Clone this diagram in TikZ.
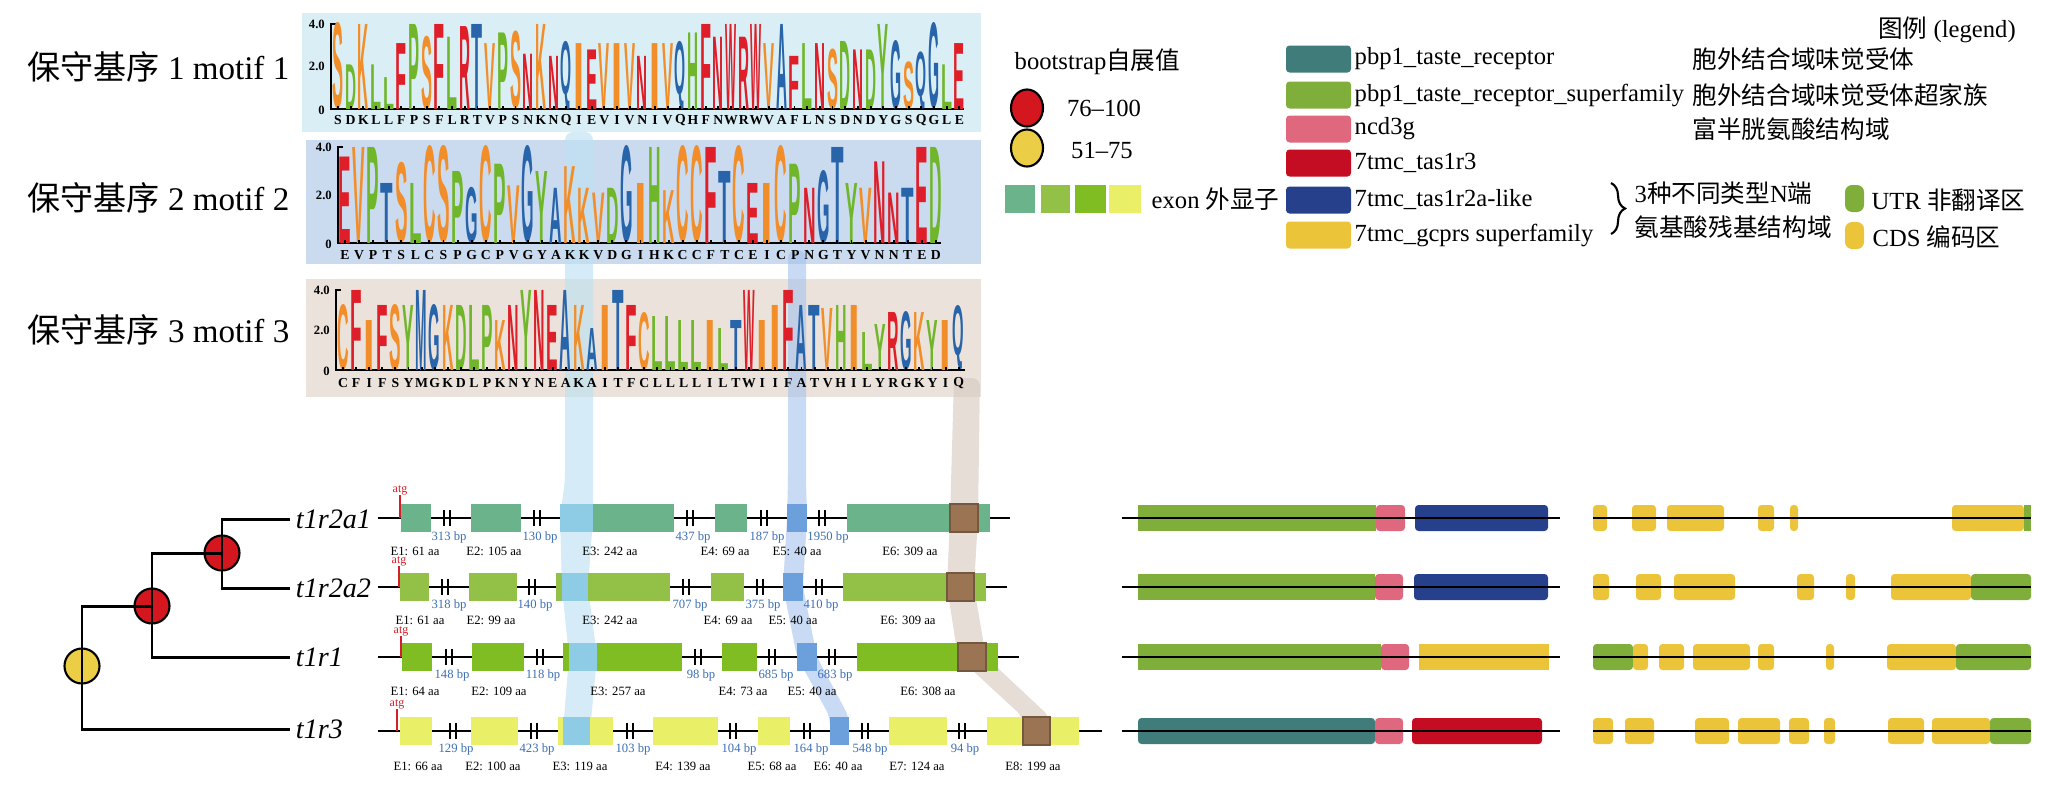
\documentclass[tikz,border=0pt]{standalone}
\usepackage{fontspec}
\setmainfont{Liberation Serif}
\setsansfont{Liberation Sans}
\newfontfamily\cjk{Noto Sans CJK SC}
\usetikzlibrary{positioning, calc, shapes.geometric, decorations.pathreplacing}

\definecolor{exonA}{RGB}{106,179,139}
\definecolor{exonB}{RGB}{147,192,71}
\definecolor{exonC}{RGB}{128,189,35}
\definecolor{exonD}{RGB}{233,239,103}
\definecolor{motifbgA}{RGB}{218,238,246}
\definecolor{motifbgB}{RGB}{202,219,240}
\definecolor{motifbgC}{RGB}{234,226,219}
\definecolor{stripecyan}{RGB}{190,225,242}
\definecolor{stripeblue}{RGB}{165,195,236}
\definecolor{stripebeige}{RGB}{218,206,196}
\definecolor{hlcyan}{RGB}{142,203,228}
\definecolor{hlblue}{RGB}{108,160,220}
\definecolor{hlbrown}{RGB}{155,116,84}
\definecolor{bpblue}{RGB}{58,110,181}
\definecolor{atgred}{RGB}{214,30,40}
\definecolor{bootred}{RGB}{212,22,30}
\definecolor{bootyellow}{RGB}{236,206,70}
\definecolor{domteal}{RGB}{63,124,122}
\definecolor{domgreen}{RGB}{127,174,58}
\definecolor{dompink}{RGB}{224,104,126}
\definecolor{domred}{RGB}{196,12,34}
\definecolor{domblue}{RGB}{38,64,140}
\definecolor{domyellow}{RGB}{235,196,58}
\definecolor{logored}{RGB}{222,30,40}
\definecolor{logoorange}{RGB}{242,142,42}
\definecolor{logogreen}{RGB}{112,182,42}
\definecolor{logoblue}{RGB}{40,100,170}
% residue colours of the logos
\colorlet{lgA}{logoblue}\colorlet{lgC}{logoorange}\colorlet{lgD}{logogreen}
\colorlet{lgE}{logored}\colorlet{lgF}{logored}\colorlet{lgG}{logoblue}
\colorlet{lgH}{logogreen}\colorlet{lgI}{logoorange}\colorlet{lgK}{logoorange}
\colorlet{lgL}{logogreen}\colorlet{lgM}{logoblue}\colorlet{lgN}{logored}
\colorlet{lgP}{logogreen}\colorlet{lgQ}{logoblue}\colorlet{lgR}{logored}
\colorlet{lgS}{logoorange}\colorlet{lgT}{logoblue}\colorlet{lgV}{logoorange}
\colorlet{lgW}{logored}\colorlet{lgY}{logogreen}

\tikzset{
  logoletter/.style={anchor=south, inner sep=0pt, outer sep=0pt, font=\sffamily\bfseries},
  seqletter/.style={inner sep=0pt, font=\fontsize{3.9}{4.6}\selectfont\bfseries},
  axisline/.style={line width=0.55pt},
  axislabel/.style={anchor=east, inner sep=1pt, font=\fontsize{3.6}{4}\selectfont\bfseries},
  motiftitle/.style={anchor=east, inner sep=0pt, font=\fontsize{9.4}{11}\selectfont},
  bootnode/.style={circle, draw, line width=0.6pt, minimum size=0.35cm, inner sep=0pt},
  bootkey/.style={ellipse, draw, line width=0.6pt, minimum width=0.32cm, minimum height=0.37cm, inner sep=0pt},
  treeline/.style={line width=0.85pt},
  leaflabel/.style={anchor=west, inner sep=1.5pt, font=\fontsize{8}{9.6}\selectfont\itshape},
  geneline/.style={line width=0.7pt},
  brk/.style={line width=0.7pt},
  bplabel/.style={inner sep=0pt, text=bpblue, font=\fontsize{3.6}{4.3}\selectfont},
  exlabel/.style={inner sep=0pt, font=\fontsize{3.6}{4.3}\selectfont},
  atglabel/.style={inner sep=0pt, text=atgred, font=\fontsize{3.4}{4}\selectfont},
  atgline/.style={atgred, line width=0.6pt},
  hlbox/.style={fill=hlbrown, draw=hlbrown!75!black, line width=0.6pt},
  domline/.style={line width=0.8pt},
  legtext/.style={anchor=west, inner sep=0pt, font=\fontsize{7}{8.4}\selectfont},
  swatch/.style={rounded corners=1pt},
}

\begin{document}
\begin{tikzpicture}[x=0.01cm, y=-0.01cm]
  \useasboundingbox (0,0) rectangle (2069,790);

  % Motif titles and panels
  \node[motiftitle] (titleA) at (290,67) {{\cjk 保守基序} 1 motif 1};
  \node[motiftitle] (titleB) at (290,198) {{\cjk 保守基序} 2 motif 2};
  \node[motiftitle] (titleC) at (290,330) {{\cjk 保守基序} 3 motif 3};
  \fill[motifbgA] (302,13) rectangle (981,132);
  \fill[motifbgB] (306,140) rectangle (981,264);
  \fill[motifbgC] (306,279) rectangle (981,397);

  % Highlight stripes
  \fill[stripecyan, opacity=0.65, rounded corners=0.08cm] (565,132) -- (565,480) -- (560,518) -- (562,587) -- (569,657) -- (563,731) -- (563,745)
    -- (590,745) -- (590,731) -- (597,657) -- (588,587) -- (593,518) -- (593,480) -- (593,132) -- cycle;
  \fill[stripeblue, opacity=0.6, rounded corners=0.08cm] (788,250) -- (788,480) -- (787,518) -- (783,587) -- (797,657) -- (830,717) -- (830,745)
    -- (849,745) -- (849,717) -- (817,657) -- (803,587) -- (807,518) -- (806,480) -- (806,250) -- cycle;
  \fill[stripebeige, opacity=0.7, rounded corners=0.08cm] (954,378) -- (950,518) -- (947,587) -- (958,657) -- (1023,717) -- (1023,745)
    -- (1050,745) -- (1050,717) -- (986,657) -- (974,587) -- (978,518) -- (980,378) -- cycle;

  % Motif 1 logo
  \draw[axisline] (336,24) -- (331,24) -- (331,109) -- (964,109);
  \node[axislabel] (yA4) at (329,24) {4.0};
  \node[axislabel] (yA2) at (329,66) {2.0};
  \node[axislabel] (yA0) at (329,110) {0};
  \foreach \ltr/\hgt [count=\i from 0] in {S/4.0, D/2.1, K/4.0, L/2.1, L/1.5, F/3.1, P/4.0, S/3.4, F/4.0, L/3.4,
      R/3.9, T/4.0, V/3.1, P/3.6, S/3.6, N/2.6, K/4.0, N/2.5, Q/2.5, I/3.1, E/2.8, V/3.1, I/3.1, V/3.1, N/2.5,
      I/3.1, V/3.1, Q/2.5, H/3.6, F/4.0, N/3.4, W/4.0, R/3.4, W/4.0, V/3.1, A/4.0, F/2.5, L/3.1, N/3.1, S/2.8,
      D/3.2, N/2.8, D/2.8, Y/4.0, G/3.2, S/2.2, Q/2.1, G/4.0, L/2.1, E/3.1}{
    \pgfmathsetlengthmacro{\lh}{\hgt*0.2125cm}
    \node[logoletter, text=lg\ltr] (mA\i) at ({338+12.68*\i},109) {\resizebox{0.11cm}{\lh}{\ltr}};
    \node[seqletter] (sA\i) at ({338+12.68*\i},120) {\ltr};
    \draw[axisline] ({338+12.68*\i},109) -- ++(0,-3);
  }

  % Motif 2 logo
  \draw[axisline] (343,147) -- (338,147) -- (338,243) -- (941,243);
  \node[axislabel] (yB4) at (336,147) {4.0};
  \node[axislabel] (yB2) at (336,195) {2.0};
  \node[axislabel] (yB0) at (336,244) {0};
  \foreach \ltr/\hgt [count=\i from 0] in {E/3.6, V/4.0, P/4.0, T/2.5, S/3.3, L/2.5, C/4.0, S/4.0, P/3.0, G/2.3,
      C/4.0, P/3.3, V/2.4, G/4.0, Y/3.0, A/2.3, K/3.2, K/2.3, V/2.1, D/2.3, G/4.0, I/2.5, H/4.0, K/2.2, C/4.0,
      C/4.0, F/4.0, T/3.0, C/4.0, E/2.5, I/2.5, C/4.0, P/3.3, N/2.3, G/3.0, T/4.0, Y/2.5, V/2.3, N/3.4, N/2.1,
      T/2.3, E/4.0, D/4.0}{
    \pgfmathsetlengthmacro{\lh}{\hgt*0.24cm}
    \node[logoletter, text=lg\ltr] (mB\i) at ({345+14.07*\i},243) {\resizebox{0.125cm}{\lh}{\ltr}};
    \node[seqletter] (sB\i) at ({345+14.07*\i},255) {\ltr};
    \draw[axisline] ({345+14.07*\i},243) -- ++(0,-3);
  }

  % Motif 3 logo
  \draw[axisline] (341,290) -- (336,290) -- (336,370) -- (965,370);
  \node[axislabel] (yC4) at (334,290) {4.0};
  \node[axislabel] (yC2) at (334,330) {2.0};
  \node[axislabel] (yC0) at (334,371) {0};
  \foreach \ltr/\hgt [count=\i from 0] in {C/3.25, F/4.0, I/2.5, F/3.25, S/3.25, Y/3.25, M/4.0, G/3.25, K/3.25, D/3.25,
      L/3.25, P/3.25, K/2.5, N/3.25, Y/4.0, N/4.0, E/3.25, A/4.0, K/3.25, A/2.1, I/3.25, T/4.0, F/3.25, C/2.85,
      L/2.7, L/2.7, L/2.5, L/2.5, I/2.5, L/2.1, T/2.5, W/4.0, I/2.5, I/3.25, F/4.0, A/3.25, T/3.25, V/3.1, H/3.25,
      I/3.25, L/1.9, Y/2.3, R/2.9, G/2.9, K/2.9, Y/2.5, I/2.5, Q/2.5}{
    \pgfmathsetlengthmacro{\lh}{\hgt*0.2cm}
    \node[logoletter, text=lg\ltr] (mC\i) at ({343+13.1*\i},370) {\resizebox{0.115cm}{\lh}{\ltr}};
    \node[seqletter] (sC\i) at ({343+13.1*\i},383) {\ltr};
    \draw[axisline] ({343+13.1*\i},370) -- ++(0,-3);
  }

  % Tree
  \node[bootnode, fill=bootyellow] (root) at (82,666) {};
  \node[bootnode, fill=bootred] (nA) at (152,606) {};
  \node[bootnode, fill=bootred] (nB) at (222,553) {};
  \node[leaflabel] (t1r2a1) at (290,519) {t1r2a1};
  \node[leaflabel] (t1r2a2) at (290,588) {t1r2a2};
  \node[leaflabel] (t1r1) at (290,657) {t1r1};
  \node[leaflabel] (t1r3) at (290,729) {t1r3};
  \draw[treeline] (nA.center) -| (root.center) |- (t1r3.west);
  \draw[treeline] (nB.center) -| (nA.center) |- (t1r1.west);
  \draw[treeline] (t1r2a1.west) -| (nB.center) |- (t1r2a2.west);

  % t1r2a1 gene
  \coordinate (gAs) at (378,518); \coordinate (gAe) at (1010,518);
  \draw[geneline] (gAs) -- (gAe);
  \foreach \a/\b in {401/431, 471/521, 560/674, 715/747, 847/990} \fill[exonA] (\a,504) rectangle (\b,532);
  \fill[hlblue] (787,504) rectangle (807,532);
  \fill[hlcyan] (560,504) rectangle (593,532);
  \draw[hlbox] (950,504) rectangle (978,532);
  \foreach \x in {447,537,690,764,822} \draw[brk] (\x-3,510) -- (\x-3,526) (\x+3,510) -- (\x+3,526);
  \foreach \x/\t in {449/313, 540/130, 693/437, 767/187, 828/1950} \node[bplabel] at (\x,537) {\t\ bp};
  \foreach \x/\t [count=\k] in {415/61, 494/105, 610/242, 725/69, 797/40, 910/309} \node[exlabel] at (\x,551) {E\k: \t\ aa};
  \draw[atgline] (400,495) -- (400,518);
  \node[atglabel] (atgA) at (400,490) {atg};

  % t1r2a2 gene
  \coordinate (gBs) at (378,587); \coordinate (gBe) at (1007,587);
  \draw[geneline] (gBs) -- (gBe);
  \foreach \a/\b in {400/429, 469/517, 556/670, 711/744, 843/986} \fill[exonB] (\a,573) rectangle (\b,601);
  \fill[hlblue] (783,573) rectangle (803,601);
  \fill[hlcyan] (562,573) rectangle (588,601);
  \draw[hlbox] (947,573) rectangle (974,601);
  \foreach \x in {445,532,686,760,819} \draw[brk] (\x-3,579) -- (\x-3,595) (\x+3,579) -- (\x+3,595);
  \foreach \x/\t in {449/318, 535/140, 690/707, 763/375, 821/410} \node[bplabel] at (\x,605) {\t\ bp};
  \foreach \x/\t [count=\k] in {420/61, 491/99, 610/242, 728/69, 793/40, 908/309} \node[exlabel] at (\x,620) {E\k: \t\ aa};
  \draw[atgline] (399,566) -- (399,587);
  \node[atglabel] (atgB) at (399,561) {atg};

  % t1r1 gene
  \coordinate (gCs) at (378,657); \coordinate (gCe) at (1019,657);
  \draw[geneline] (gCs) -- (gCe);
  \foreach \a/\b in {402/432, 472/524, 563/682, 722/757, 857/998} \fill[exonC] (\a,643) rectangle (\b,671);
  \fill[hlblue] (797,643) rectangle (817,671);
  \fill[hlcyan] (569,643) rectangle (597,671);
  \draw[hlbox] (958,643) rectangle (986,671);
  \foreach \x in {449,540,698,772,832} \draw[brk] (\x-3,649) -- (\x-3,665) (\x+3,649) -- (\x+3,665);
  \foreach \x/\t in {452/148, 543/118, 701/98, 776/685, 835/683} \node[bplabel] at (\x,675) {\t\ bp};
  \foreach \x/\t [count=\k] in {415/64, 499/109, 618/257, 743/73, 812/40, 928/308} \node[exlabel] at (\x,691) {E\k: \t\ aa};
  \draw[atgline] (401,636) -- (401,657);
  \node[atglabel] (atgC) at (401,631) {atg};

  % t1r3 gene
  \coordinate (gDs) at (378,731); \coordinate (gDe) at (1102,731);
  \draw[geneline] (gDs) -- (gDe);
  \foreach \a/\b in {400/432, 471/518, 558/613, 653/718, 758/790, 889/947, 987/1079} \fill[exonD] (\a,717) rectangle (\b,745);
  \fill[hlblue] (830,717) rectangle (849,745);
  \fill[hlcyan] (563,717) rectangle (590,745);
  \draw[hlbox] (1023,717) rectangle (1050,745);
  \foreach \x in {453,534,630,733,807,865,962} \draw[brk] (\x-3,723) -- (\x-3,739) (\x+3,723) -- (\x+3,739);
  \foreach \x/\t in {456/129, 537/423, 633/103, 739/104, 811/164, 870/548, 965/94} \node[bplabel] at (\x,749) {\t\ bp};
  \foreach \x/\t [count=\k] in {418/66, 493/100, 580/119, 683/139, 772/68, 838/40, 917/124, 1033/199} \node[exlabel] at (\x,766) {E\k: \t\ aa};
  \draw[atgline] (397,709) -- (397,731);
  \node[atglabel] (atgD) at (397,704) {atg};

  % Protein domains
  \fill[domgreen] (1138,505) rectangle (1376,531);
  \fill[dompink, swatch] (1376,505) rectangle (1405,531);
  \fill[domblue, swatch] (1415,505) rectangle (1548,531);
  \fill[domgreen] (1138,574) rectangle (1375,600);
  \fill[dompink, swatch] (1375,574) rectangle (1403,600);
  \fill[domblue, swatch] (1414,574) rectangle (1548,600);
  \fill[domgreen] (1138,644) rectangle (1381,670);
  \fill[dompink, swatch] (1381,644) rectangle (1409,670);
  \fill[domyellow] (1419,644) rectangle (1549,670);
  \fill[domteal, swatch] (1138,718) rectangle (1375,744);
  \fill[dompink, swatch] (1375,718) rectangle (1403,744);
  \fill[domred, swatch] (1412,718) rectangle (1542,744);
  \foreach \y [count=\i] in {518,587,657,731}{
    \coordinate (dom\i s) at (1122,\y); \coordinate (dom\i e) at (1560,\y);
    \draw[domline] (dom\i s) -- (dom\i e);
  }

  % UTR / CDS
  \foreach \a/\b in {1593/1607, 1632/1656, 1667/1724, 1758/1774, 1790/1798, 1952/2024} \fill[domyellow, swatch] (\a,505) rectangle (\b,531);
  \fill[domgreen] (2024,505) rectangle (2031,531);
  \foreach \a/\b in {1593/1609, 1636/1661, 1674/1735, 1797/1814, 1846/1855, 1891/1971} \fill[domyellow, swatch] (\a,574) rectangle (\b,600);
  \fill[domgreen, swatch] (1971,574) rectangle (2031,600);
  \fill[domgreen, swatch] (1593,644) rectangle (1633,670);
  \foreach \a/\b in {1633/1648, 1659/1684, 1693/1750, 1758/1774, 1826/1834, 1887/1956} \fill[domyellow, swatch] (\a,644) rectangle (\b,670);
  \fill[domgreen, swatch] (1956,644) rectangle (2031,670);
  \foreach \a/\b in {1593/1613, 1625/1654, 1695/1729, 1738/1780, 1789/1809, 1824/1835, 1888/1924, 1932/1990} \fill[domyellow, swatch] (\a,718) rectangle (\b,744);
  \fill[domgreen, swatch] (1990,718) rectangle (2031,744);
  \foreach \y [count=\i] in {518,587,657,731}{
    \coordinate (cds\i s) at (1593,\y); \coordinate (cds\i e) at (2031,\y);
    \draw[domline] (cds\i s) -- (cds\i e);
  }

  % Legend
  \node[legtext, anchor=center] (legtitle) at (1947,30) {{\cjk 图例} (legend)};
  \node[legtext] (bstitle) at (1014,62) {bootstrap{\cjk 自展值}};
  \node[bootkey, fill=bootred] (bshigh) at (1027,108) {};
  \node[legtext, anchor=center] (bshightxt) at (1104,108) {76--100};
  \node[bootkey, fill=bootyellow] (bslow) at (1027,148) {};
  \node[legtext, anchor=center] (bslowtxt) at (1102,150) {51--75};
  \foreach \a/\b/\c in {1005/1035/exonA, 1041/1070/exonB, 1075/1106/exonC, 1109/1141/exonD} \fill[\c] (\a,185) rectangle (\b,213);
  \node[legtext] (exontxt) at (1151,199) {exon {\cjk 外显子}};
  \foreach \y/\c/\t [count=\i] in {59/domteal/pbp1\_taste\_receptor, 95/domgreen/pbp1\_taste\_receptor\_superfamily,
      129/dompink/ncd3g, 163/domred/7tmc\_tas1r3, 200/domblue/7tmc\_tas1r2a-like, 235/domyellow/7tmc\_gcprs superfamily}{
    \fill[\c, swatch] (1286,\y-13.5) rectangle (1351,\y+13.5);
    \node[legtext] (domkey\i) at (1354,\y) {\t};
  }
  \node[legtext] (domcn1) at (1692,59) {\cjk 胞外结合域味觉受体};
  \node[legtext] (domcn2) at (1692,95) {\cjk 胞外结合域味觉受体超家族};
  \node[legtext] (domcn3) at (1692,129) {\cjk 富半胱氨酸结构域};
  \draw[line width=0.6pt, decorate, decoration={brace, amplitude=4pt}] (1611,183) -- (1611,234);
  \node[legtext] (ntermA) at (1634,193) {3{\cjk 种不同类型}N{\cjk 端}};
  \node[legtext] (ntermB) at (1634,227) {\cjk 氨基酸残基结构域};
  \fill[domgreen, rounded corners=2pt] (1845,185) rectangle (1864,212);
  \node[legtext] (utrtxt) at (1871,200) {UTR {\cjk 非翻译区}};
  \fill[domyellow, rounded corners=2pt] (1845,222) rectangle (1864,249);
  \node[legtext] (cdstxt) at (1872,237) {CDS {\cjk 编码区}};
\end{tikzpicture}
\end{document}
